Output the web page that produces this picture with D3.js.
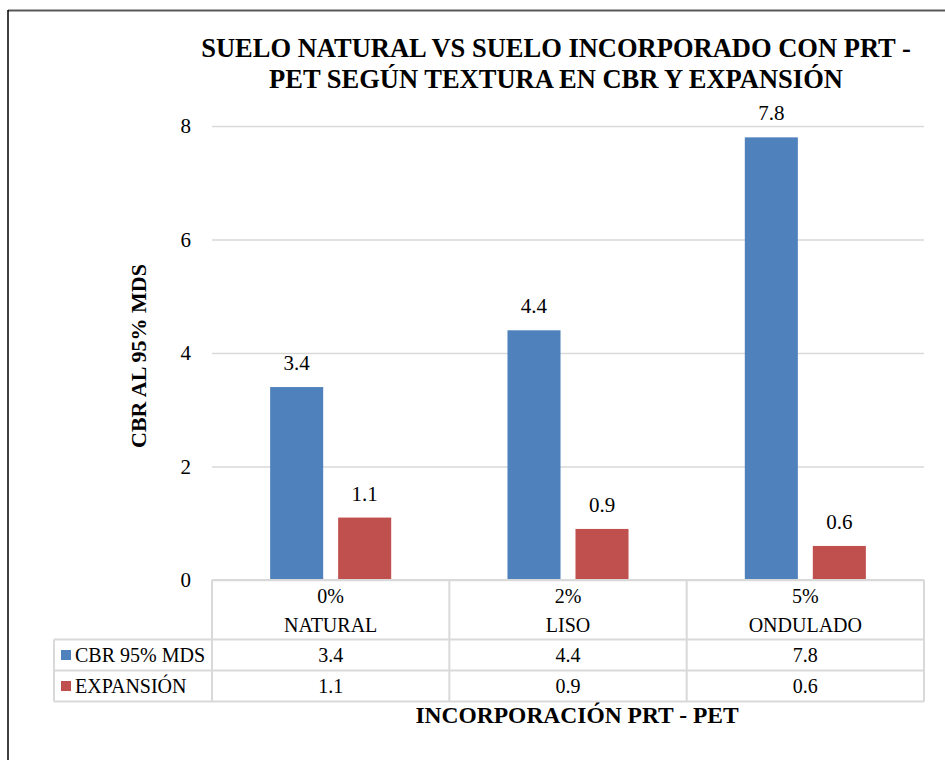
<!DOCTYPE html>
<html><head><meta charset="utf-8">
<script src="https://cdn.jsdelivr.net/npm/d3@7"></script>
<style>
svg text { font-family: "Liberation Serif", serif !important; }
</style>
</head>
<body style="margin:0;background:#fff">
<svg id="c" width="945" height="760" font-family="Liberation Serif, serif"></svg>
<script>
const categories = ["NATURAL","LISO","ONDULADO"];
const percents = ["0%","2%","5%"];
const seriesNames = ["CBR 95% MDS","EXPANSIÓN"];
const cbrValues = [3.4, 4.4, 7.8];
const expansionValues = [1.1, 0.9, 0.6];
const yTicks = [0,2,4,6,8];
const titleLines = ["SUELO NATURAL VS SUELO INCORPORADO CON PRT -","PET SEGÚN TEXTURA EN CBR Y EXPANSIÓN"];
const yTitle = "CBR AL 95% MDS";
const xTitle = "INCORPORACIÓN PRT - PET";
const colors = ["#4F81BD","#C0504D"];

const series = [cbrValues, expansionValues];
const svg = d3.select("#c");
const L = 212, R = 924, T = 126, B = 580;
const grid = "#D9D9D9";

function txt(sel, size, bold){
  sel.attr("font-family","Liberation Serif, serif").attr("font-size",size).attr("fill","#000");
  sel.each(function(){ this.style.setProperty("font-family",'"Liberation Serif", serif',"important"); });
  if(bold) sel.attr("font-weight","bold");
  return sel;
}

// frame
svg.append("line").attr("x1",8).attr("x2",945).attr("y1",10.5).attr("y2",10.5).attr("stroke","#595959").attr("stroke-width",2);
svg.append("line").attr("x1",8).attr("x2",8).attr("y1",10).attr("y2",760).attr("stroke","#000").attr("stroke-width",1.5);

const y = d3.scaleLinear().domain([0,8]).range([B,T]);
const x0 = d3.scaleBand().domain(categories).range([L,R]);
const x1 = d3.scaleBand().domain(seriesNames).range([0,x0.bandwidth()]).paddingInner(0.22).paddingOuter(0.855);

// gridlines + tick labels
const ax = d3.axisLeft(y).tickValues(yTicks).tickSize(-(R-L)).tickFormat(d3.format("d")).tickPadding(21);
const g = svg.append("g").attr("transform",`translate(${L},0)`).call(ax);
g.attr("font-family","Liberation Serif, serif").attr("font-size",21);
g.select(".domain").remove();
g.selectAll(".tick line").attr("stroke",grid).attr("stroke-width",1.5);
txt(g.selectAll(".tick text"),21);

// bars
categories.forEach((c,i)=>{
  seriesNames.forEach((s,j)=>{
    const v = series[j][i];
    svg.append("rect").attr("x",x0(c)+x1(s)).attr("width",x1.bandwidth())
      .attr("y",y(v)).attr("height",y(0)-y(v)).attr("fill",colors[j]);
    txt(svg.append("text"),21).attr("x",x0(c)+x1(s)+x1.bandwidth()/2).attr("y",y(v)-17)
      .attr("text-anchor","middle").text(v.toFixed(1));
  });
});

// table
const rowTop = B, r1 = 639.5, r2 = 670.5, r3 = 701.5, legL = 54;
const tl = (xa,ya,xb,yb)=>svg.append("line").attr("x1",xa).attr("y1",ya).attr("x2",xb).attr("y2",yb).attr("stroke",grid).attr("stroke-width",2);
tl(L,rowTop,R,rowTop);
tl(legL,r1,R,r1); tl(legL,r2,R,r2); tl(legL,r3,R,r3);
tl(legL,r1,legL,r3);
const cols = categories.map(c=>x0(c)).concat([R]);
cols.forEach(cx=>tl(cx,rowTop,cx,r3));

categories.forEach((c,i)=>{
  const cx = x0(c)+x0.bandwidth()/2;
  txt(svg.append("text"),20).attr("x",cx).attr("y",603).attr("text-anchor","middle").text(percents[i]);
  txt(svg.append("text"),20).attr("x",cx).attr("y",632).attr("text-anchor","middle").text(c);
  txt(svg.append("text"),20).attr("x",cx).attr("y",662).attr("text-anchor","middle").text(cbrValues[i].toFixed(1));
  txt(svg.append("text"),20).attr("x",cx).attr("y",693).attr("text-anchor","middle").text(expansionValues[i].toFixed(1));
});
seriesNames.forEach((s,j)=>{
  const cy = j===0 ? 655 : 686;
  svg.append("rect").attr("x",61).attr("y",cy-5).attr("width",10).attr("height",10).attr("fill",colors[j]);
  txt(svg.append("text"),20).attr("x",75).attr("y",cy+7).text(s);
});

// titles
titleLines.forEach((t,i)=>{
  txt(svg.append("text"),26.5,true).attr("x",556).attr("y",57+i*31).attr("text-anchor","middle").text(t);
});
txt(svg.append("text"),22,true).attr("transform","translate(146,356) rotate(-90)").attr("text-anchor","middle").text(yTitle);
txt(svg.append("text"),23.5,true).attr("x",577).attr("y",723).attr("text-anchor","middle").text(xTitle);
</script>
</body></html>
